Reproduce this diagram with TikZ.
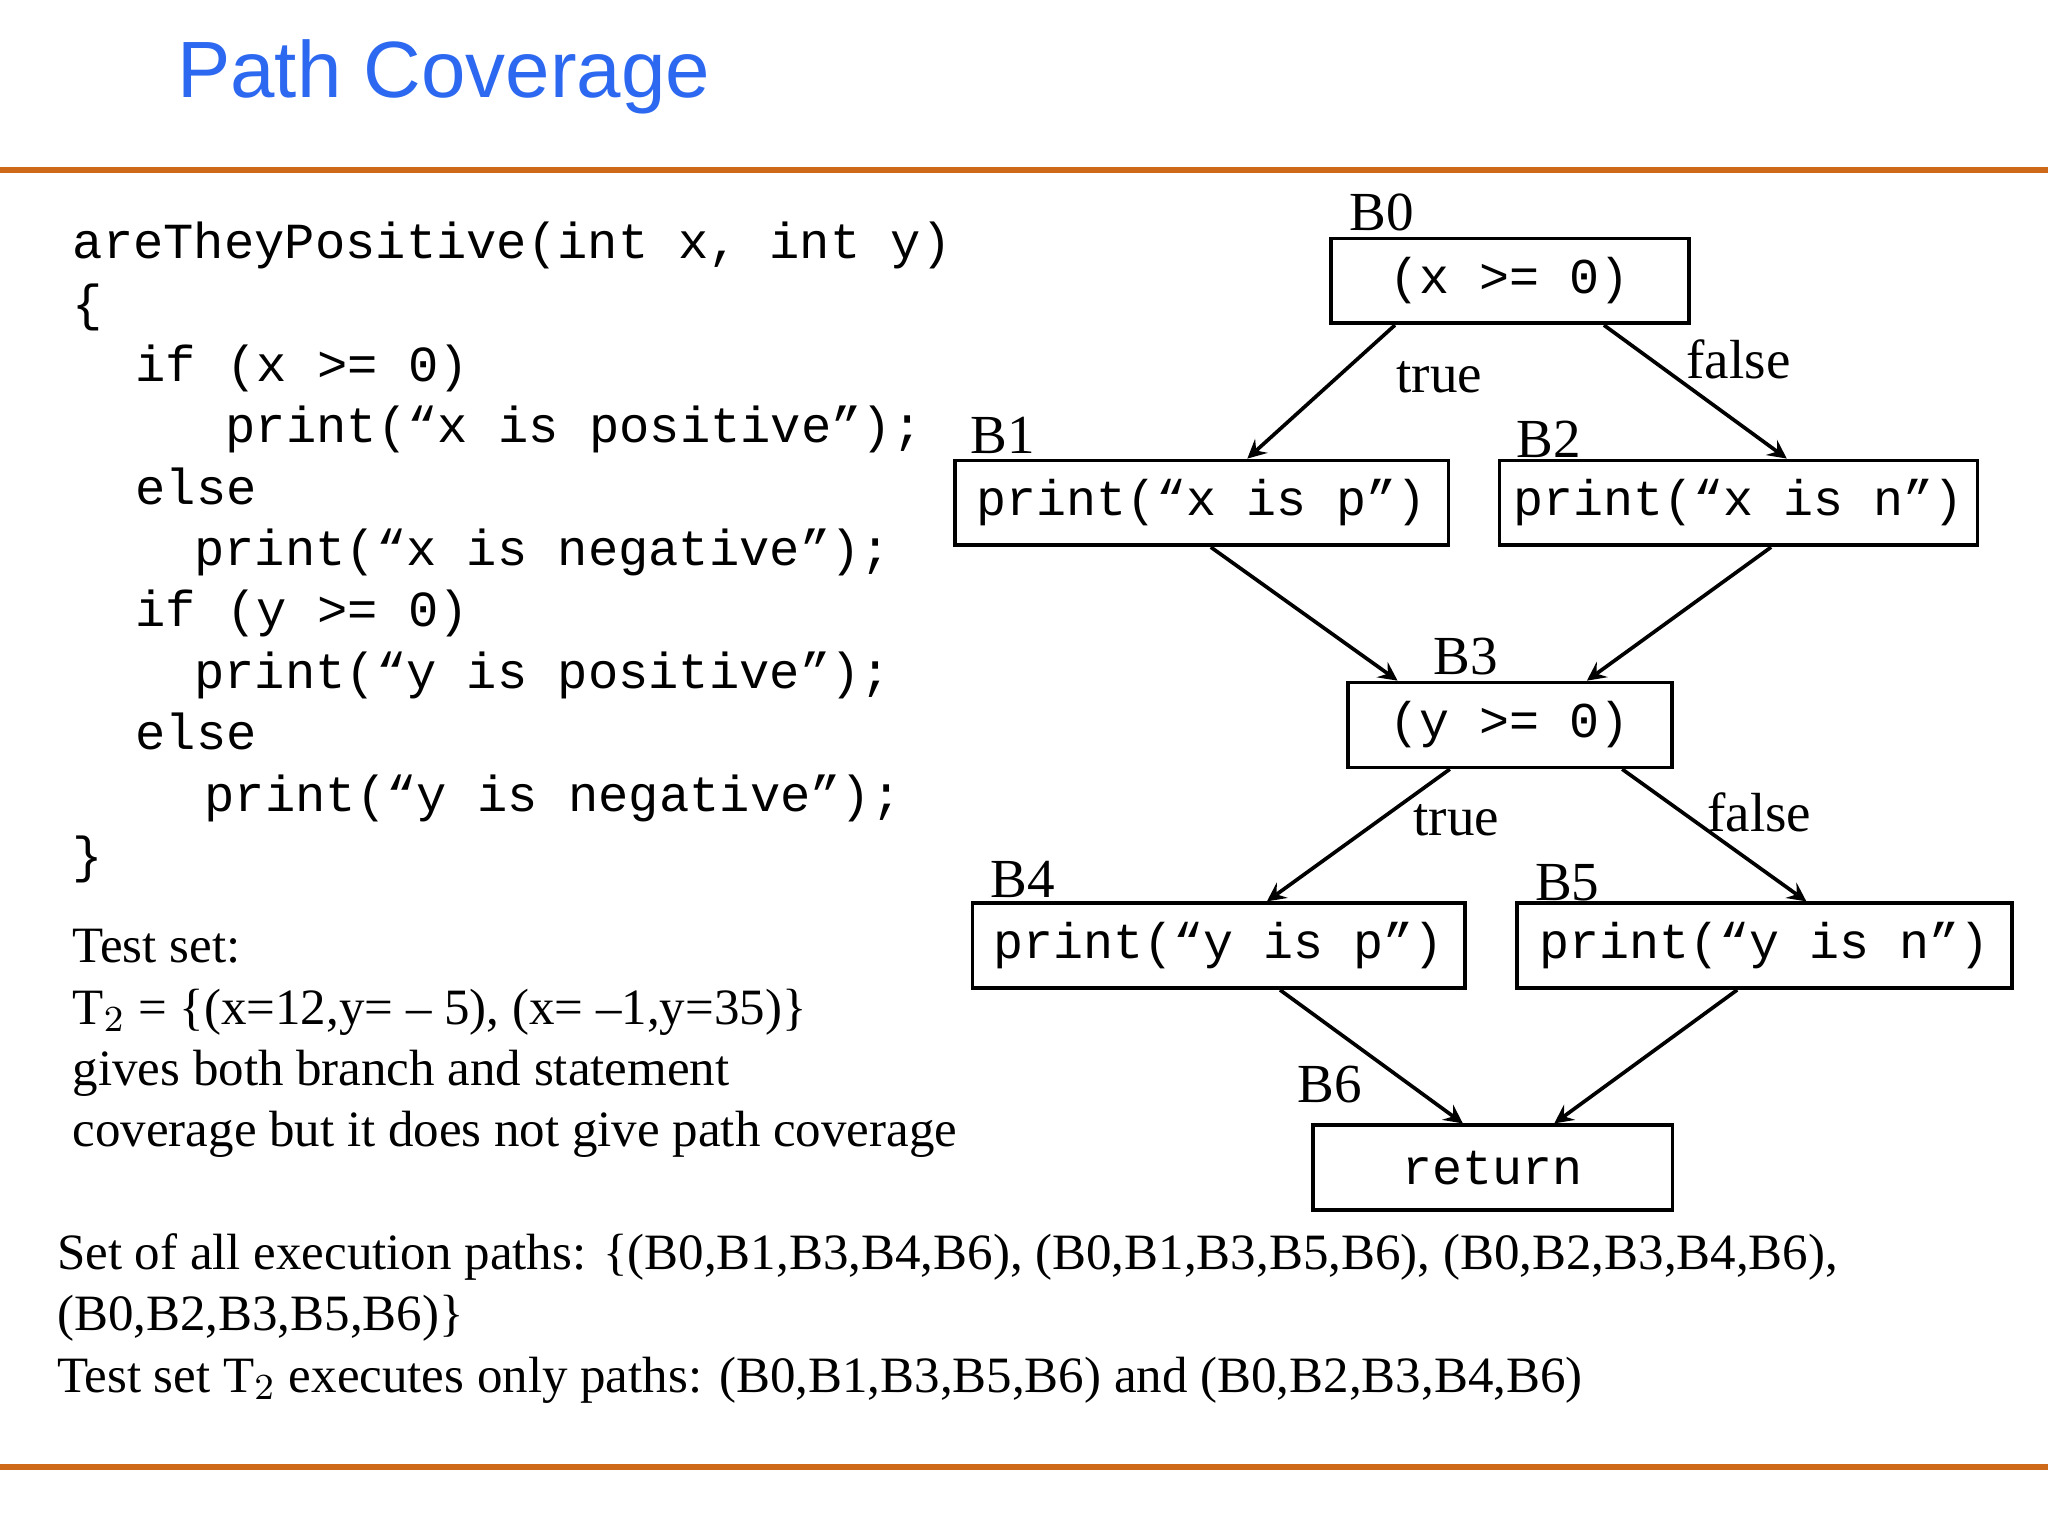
\documentclass[tikz,border=0pt]{standalone}
\usepackage{fontspec}
\setmainfont{Liberation Serif}
\setmonofont{Liberation Mono}
\newfontfamily\titlefont{Liberation Sans}
\usetikzlibrary{arrows}
\definecolor{rulecol}{RGB}{205,105,25}
\definecolor{titleblue}{RGB}{45,105,240}
\begin{document}
\begin{tikzpicture}[x=0.1mm,y=-0.1mm,
    blk/.style={draw, thick, minimum width=#1, minimum height=6.5mm, inner sep=0pt, font=\ttfamily\fontsize{10.9}{12}\selectfont},
    lbl/.style={font=\fontsize{12}{13}\selectfont},
    code/.style={anchor=base west, inner sep=0pt, font=\ttfamily\fontsize{11}{12}\selectfont},
    txt/.style={anchor=base west, inner sep=0pt, font=\fontsize{11.1}{13}\selectfont},
    arr/.style={->, >=stealth, thick}]

    \useasboundingbox (0,0) rectangle (1568,1176);
    \node[anchor=base west, inner sep=0pt, text=titleblue, font=\titlefont\fontsize{17.4}{20}\selectfont] (title) at (135,75) {Path Coverage};
    \draw[rulecol, line width=1.4pt] (0,130) -- (1568,130);
    \draw[rulecol, line width=1.4pt] (0,1123) -- (1568,1123);

    % code
    \node[code] (c1) at (55,198) {areTheyPositive(int x, int y)};
    \node[code] (c2) at (55,245) {\{};
    \node[code] (c3) at (103,292) {if (x >= 0)};
    \node[code] (c4) at (172,339) {print(“x is positive”);};
    \node[code] (c5) at (103,386) {else};
    \node[code] (c6) at (148,433) {print(“x is negative”);};
    \node[code] (c7) at (103,480) {if (y >= 0)};
    \node[code] (c8) at (148,527) {print(“y is positive”);};
    \node[code] (c9) at (103,574) {else};
    \node[code] (c10) at (156,621) {print(“y is negative”);};
    \node[code] (c11) at (55,668) {\}};

    % test set
    \node[txt] (t1) at (55,737) {Test set:};
    \node[txt] (t2) at (55,784) {T$_2$ = \{(x=12,y= -- 5), (x= --1,y=35)\}};
    \node[txt] (t3) at (55,831) {gives both branch and statement};
    \node[txt] (t4) at (55,878) {coverage but it does not give path coverage};
    \node[txt] (p1) at (43,972) {Set of all execution paths: \{(B0,B1,B3,B4,B6), (B0,B1,B3,B5,B6), (B0,B2,B3,B4,B6),};
    \node[txt] (p2) at (43,1019) {(B0,B2,B3,B5,B6)\}};
    \node[txt] (p3) at (43,1066) {Test set T$_2$ executes only paths: (B0,B1,B3,B5,B6) and (B0,B2,B3,B4,B6)};

    % graph
    \node[blk=27.4mm] (b0) at (1156,215) {(x >= 0)};
    \node[blk=37.8mm] (b1) at (920,385) {print(“x is p”)};
    \node[blk=36.6mm] (b2) at (1331,385) {print(“x is n”)};
    \node[blk=24.8mm] (b3) at (1156,555) {(y >= 0)};
    \node[blk=37.7mm] (b4) at (933,724) {print(“y is p”)};
    \node[blk=37.9mm] (b5) at (1351,724) {print(“y is n”)};
    \node[blk=27.5mm] (b6) at (1143,894) {return};

    \node[lbl] (l0) at (1058,163) {B0};
    \node[lbl] (l1) at (768,333) {B1};
    \node[lbl] (l2) at (1186,336) {B2};
    \node[lbl] (l3) at (1122,503) {B3};
    \node[lbl] (l4) at (783,673) {B4};
    \node[lbl] (l5) at (1200,676) {B5};
    \node[lbl] (l6) at (1018,830) {B6};
    \node[lbl] (tr0) at (1102,289) {true};
    \node[lbl] (fa0) at (1331,275) {false};
    \node[lbl] (tr3) at (1115,628) {true};
    \node[lbl] (fa3) at (1347,622) {false};

    \draw[arr] ([xshift=-8.8mm]b0.south) -- ([xshift=3.5mm]b1.north);
    \draw[arr] ([xshift=7.2mm]b0.south) -- ([xshift=3.7mm]b2.north);
    \draw[arr] ([xshift=0.7mm]b1.south) -- ([xshift=-8.6mm]b3.north);
    \draw[arr] ([xshift=2.5mm]b2.south) -- ([xshift=5.9mm]b3.north);
    \draw[arr] ([xshift=-4.6mm]b3.south) -- ([xshift=3.7mm]b4.north);
    \draw[arr] ([xshift=8.6mm]b3.south) -- ([xshift=3.2mm]b5.north);
    \draw[arr] ([xshift=4.7mm]b4.south) -- ([xshift=-2.3mm]b6.north);
    \draw[arr] ([xshift=-2.1mm]b5.south) -- ([xshift=4.7mm]b6.north);
\end{tikzpicture}
\end{document}
